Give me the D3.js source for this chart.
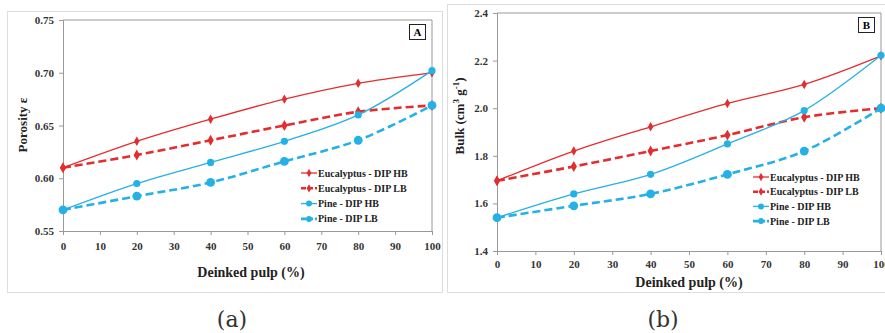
<!DOCTYPE html>
<html>
<head>
<meta charset="utf-8">
<script src="https://cdn.jsdelivr.net/npm/d3@7"></script>
<style>
  body { margin: 0; background: #fff; }
  svg { display: block; }
  svg text { font-family: "Liberation Serif", "Times New Roman", serif; }
  .tick text { font-weight: bold; font-size: 11px; fill: #333; }
  .axis path, .axis line { stroke: #999; }
</style>
</head>
<body>
<div id="chart"></div>
<script>
// deinked pulp content (%)
const pulp = [0, 20, 40, 60, 80, 100]
const xTicks = [0, 10, 20, 30, 40, 50, 60, 70, 80, 90, 100]

// panel A: porosity
const porosityEucHB  = [0.610, 0.635, 0.656, 0.675, 0.690, 0.700]
const porosityEucLB  = [0.610, 0.622, 0.636, 0.650, 0.663, 0.669]
const porosityPineHB = [0.570, 0.595, 0.615, 0.635, 0.660, 0.702]
const porosityPineLB = [0.570, 0.583, 0.596, 0.616, 0.636, 0.669]
const porosityTicks  = [0.55, 0.60, 0.65, 0.70, 0.75]

// panel B: bulk
const bulkEucHB  = [1.695, 1.820, 1.922, 2.020, 2.100, 2.220]
const bulkEucLB  = [1.695, 1.755, 1.820, 1.887, 1.962, 2.000]
const bulkPineHB = [1.540, 1.640, 1.722, 1.850, 1.990, 2.222]
const bulkPineLB = [1.540, 1.590, 1.640, 1.722, 1.820, 2.000]
const bulkTicks  = [1.4, 1.6, 1.8, 2.0, 2.2, 2.4]

const seriesNames = ['Eucalyptus - DIP HB', 'Eucalyptus - DIP LB', 'Pine - DIP HB', 'Pine - DIP LB']

const red = '#e42d2f', blue = '#25b1e5'
const serif = '"Liberation Serif", "Times New Roman", serif'
// how each series is drawn, same order as seriesNames
const styles = [
    {color: red,  width: 1.3, dash: null,  marker: 'diamond', size: 26},
    {color: red,  width: 2.6, dash: '8,4', marker: 'diamond', size: 34},
    {color: blue, width: 1.3, dash: null,  marker: 'circle',  size: 3.6},
    {color: blue, width: 2.6, dash: '8,4', marker: 'circle',  size: 4.4}
]

let svg = d3.select('#chart').append('svg')
            .attr('width', 885).attr('height', 333)

function drawPanel(p) {
    let g = svg.append('g')

    // outer chart frame
    g.append('rect')
     .attr('x', p.frame[0]).attr('y', p.frame[1])
     .attr('width', p.frame[2]).attr('height', p.frame[3])
     .attr('fill', 'none').attr('stroke', '#ddd').attr('stroke-width', 1)

    let x = d3.scaleLinear().domain([0, 100]).range([p.left, p.right])
    let y = d3.scaleLinear().domain(p.yDomain).range([p.bottom, p.top])

    // plot area border (top + right)
    g.append('path')
     .attr('d', `M${p.left},${p.top}H${p.right}V${p.bottom}`)
     .attr('fill', 'none').attr('stroke', '#999')

    g.append('g').attr('class', 'axis')
     .attr('transform', `translate(0,${p.bottom})`)
     .call(d3.axisBottom(x).tickValues(xTicks).tickSize(4).tickPadding(p.xPad))
     .attr('font-family', serif)
    g.append('g').attr('class', 'axis')
     .attr('transform', `translate(${p.left},0)`)
     .call(d3.axisLeft(y).tickValues(p.yTicks).tickSize(4).tickPadding(5)
             .tickFormat(p.yFormat))
     .attr('font-family', serif)

    let line = d3.line()
                 .x((d, i) => x(pulp[i]))
                 .y((d) => y(d))
                 .curve(d3.curveCatmullRom.alpha(0.5))

    p.series.forEach((vals, k) => {
        let s = styles[k]
        g.append('path')
         .attr('d', line(vals))
         .attr('fill', 'none')
         .attr('stroke', s.color)
         .attr('stroke-width', s.width)
         .attr('stroke-dasharray', s.dash)
    })
    p.series.forEach((vals, k) => {
        let s = styles[k]
        let m = g.append('g').selectAll('.m' + k)
                 .data(vals).enter()
        if (s.marker == 'circle') {
            m.append('circle')
             .attr('cx', (d, i) => x(pulp[i])).attr('cy', (d) => y(d))
             .attr('r', s.size).attr('fill', s.color)
        } else {
            m.append('path')
             .attr('d', d3.symbol(d3.symbolDiamond, s.size))
             .attr('transform', (d, i) => `translate(${x(pulp[i])},${y(d)})`)
             .attr('fill', s.color)
        }
    })

    // legend
    seriesNames.forEach((name, k) => {
        let s = styles[k]
        let ly = p.legend[1] + k * p.legendGap
        let lx = p.legend[0]
        g.append('line')
         .attr('x1', lx).attr('x2', lx + 16).attr('y1', ly).attr('y2', ly)
         .attr('stroke', s.color).attr('stroke-width', s.width)
         .attr('stroke-dasharray', s.dash ? '5,2' : null)
        if (s.marker == 'circle') {
            g.append('circle').attr('cx', lx + 8).attr('cy', ly).attr('r', 3).attr('fill', s.color)
        } else {
            g.append('path').attr('d', d3.symbol(d3.symbolDiamond, 20))
             .attr('transform', `translate(${lx + 8},${ly})`).attr('fill', s.color)
        }
        g.append('text')
         .attr('x', lx + 17).attr('y', ly + 3.5)
         .attr('font-family', serif)
         .attr('font-size', 10).attr('font-weight', 'bold').attr('fill', '#222')
         .text(name)
    })

    // panel letter box
    g.append('rect')
     .attr('x', p.box[0]).attr('y', p.box[1]).attr('width', 16).attr('height', 15)
     .attr('fill', '#fff').attr('stroke', '#222').attr('stroke-width', 1)
    g.append('text')
     .attr('x', p.box[0] + 8).attr('y', p.box[1] + 11.5)
     .attr('font-family', serif)
     .attr('text-anchor', 'middle').attr('font-size', 11).attr('font-weight', 'bold')
     .text(p.letter)

    // axis titles
    g.append('text')
     .attr('x', p.xTitle[0]).attr('y', p.xTitle[1])
     .attr('font-family', serif)
     .attr('text-anchor', 'middle').attr('font-size', 14).attr('font-weight', 'bold')
     .attr('fill', '#222')
     .text('Deinked pulp (%)')
    let yt = g.append('text')
     .attr('transform', `translate(${p.yTitle[0]},${p.yTitle[1]}) rotate(-90)`)
     .attr('font-family', serif)
     .attr('text-anchor', 'middle').attr('font-size', 13).attr('font-weight', 'bold')
     .attr('fill', '#222')
    p.yLabel(yt)

    // caption under panel
    svg.append('text')
     .attr('x', p.caption[0]).attr('y', p.caption[1])
     .attr('text-anchor', 'middle').attr('font-size', 22).attr('fill', '#333')
     .style('font-family', '"DejaVu Serif", serif')
     .text(p.captionText)
}

drawPanel({
    frame: [7.5, 11.5, 435, 281],
    left: 63, right: 432, top: 20, bottom: 231,
    yDomain: [0.55, 0.75], yTicks: porosityTicks, yFormat: d3.format('.2f'),
    xPad: 7,
    series: [porosityEucHB, porosityEucLB, porosityPineHB, porosityPineLB],
    legend: [301, 173], legendGap: 15.3,
    box: [409.5, 24.5], letter: 'A',
    xTitle: [251, 277], yTitle: [27, 125],
    yLabel: (t) => t.text('Porosity ε'),
    caption: [232, 327], captionText: '(a)'
})

drawPanel({
    frame: [447.5, 4.5, 445, 288],
    left: 497, right: 881, top: 13, bottom: 251,
    yDomain: [1.4, 2.4], yTicks: bulkTicks, yFormat: d3.format('.1f'),
    xPad: 5,
    series: [bulkEucHB, bulkEucLB, bulkPineHB, bulkPineLB],
    legend: [753, 177], legendGap: 14.7,
    box: [858.5, 17.5], letter: 'B',
    xTitle: [689, 287], yTitle: [464, 116],
    yLabel: (t) => {
        t.append('tspan').text('Bulk (cm')
        t.append('tspan').attr('baseline-shift', 'super').attr('font-size', 9).text('3')
        t.append('tspan').text(' g')
        t.append('tspan').attr('baseline-shift', 'super').attr('font-size', 9).text('-1')
        t.append('tspan').text(')')
    },
    caption: [663, 327], captionText: '(b)'
})
</script>
</body>
</html>
